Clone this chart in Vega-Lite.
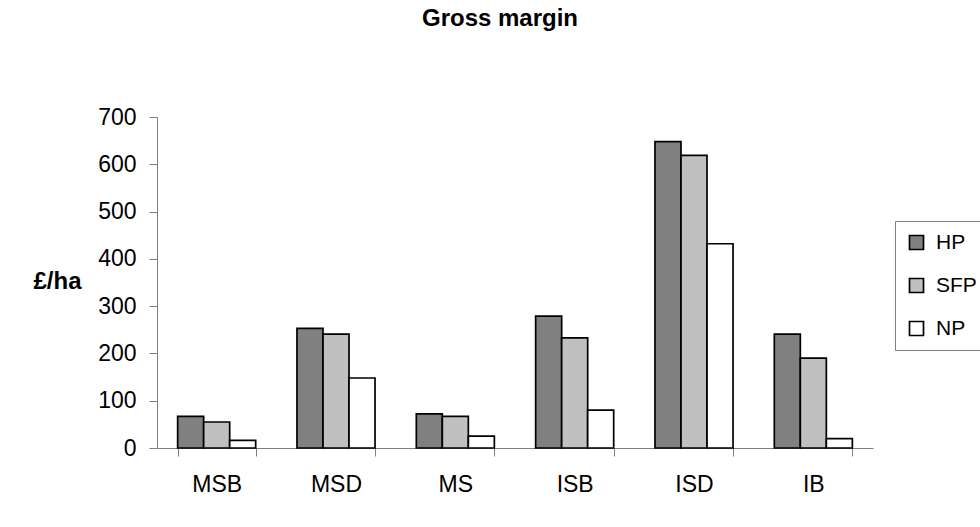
{
  "$schema": "https://vega.github.io/schema/vega-lite/v6.json",
  "autosize": {"type": "none"},
  "width": 716,
  "height": 331,
  "padding": {"left": 157, "top": 117, "right": 107, "bottom": 79},
  "background": "white",
  "title": {"text": "Gross margin", "fontSize": 24, "font": "Liberation Sans", "fontWeight": "bold", "color": "black", "anchor": "middle", "dx": -15, "baseline": "bottom", "offset": 51},
  "data": {"values": [
    {"site": "MSB", "scenario": "HP", "value": 67},
    {"site": "MSB", "scenario": "SFP", "value": 55},
    {"site": "MSB", "scenario": "NP", "value": 16},
    {"site": "MSD", "scenario": "HP", "value": 253},
    {"site": "MSD", "scenario": "SFP", "value": 241},
    {"site": "MSD", "scenario": "NP", "value": 148},
    {"site": "MS", "scenario": "HP", "value": 72},
    {"site": "MS", "scenario": "SFP", "value": 67},
    {"site": "MS", "scenario": "NP", "value": 25},
    {"site": "ISB", "scenario": "HP", "value": 279},
    {"site": "ISB", "scenario": "SFP", "value": 233},
    {"site": "ISB", "scenario": "NP", "value": 80},
    {"site": "ISD", "scenario": "HP", "value": 648},
    {"site": "ISD", "scenario": "SFP", "value": 619},
    {"site": "ISD", "scenario": "NP", "value": 432},
    {"site": "IB", "scenario": "HP", "value": 241},
    {"site": "IB", "scenario": "SFP", "value": 190},
    {"site": "IB", "scenario": "NP", "value": 20}
  ]},
  "mark": {"type": "bar", "stroke": "black", "strokeWidth": 1.7},
  "encoding": {
    "x": {
      "field": "site", "type": "nominal",
      "sort": ["MSB", "MSD", "MS", "ISB", "ISD", "IB"],
      "scale": {"paddingInner": 0.346, "paddingOuter": 0.173},
      "axis": {"title": null, "labelAngle": 0, "tickBand": "extent", "tickSize": 8, "labelPadding": 17, "labelFontSize": 23, "labelFont": "Liberation Sans", "labelColor": "black", "domainColor": "#808080", "tickColor": "#808080"}
    },
    "xOffset": {"field": "scenario", "type": "nominal", "sort": ["HP", "SFP", "NP"], "scale": {"paddingInner": 0, "paddingOuter": 0}},
    "y": {
      "field": "value", "type": "quantitative",
      "scale": {"domain": [0, 700], "nice": false},
      "axis": {"title": "£/ha", "titleAngle": 0, "titleX": -124, "titleY": 164, "titleAlign": "left", "titleBaseline": "middle", "titleFontSize": 24, "titleFont": "Liberation Sans", "titleFontWeight": "bold", "titleColor": "black", "values": [0, 100, 200, 300, 400, 500, 600, 700], "grid": false, "tickSize": 8, "labelPadding": 13, "labelFontSize": 23, "labelFont": "Liberation Sans", "labelColor": "black", "domainColor": "#808080", "tickColor": "#808080"}
    },
    "fill": {
      "field": "scenario", "type": "nominal",
      "scale": {"domain": ["HP", "SFP", "NP"], "range": ["#808080", "#c0c0c0", "#ffffff"]},
      "legend": {"title": null, "orient": "none", "legendX": 738, "legendY": 104, "symbolType": "square", "symbolSize": 196, "symbolStrokeColor": "black", "symbolStrokeWidth": 1.7, "labelFontSize": 21, "labelFont": "Liberation Sans", "labelColor": "black", "rowPadding": 21, "padding": 11, "strokeColor": "#808080", "labelOffset": 9}
    }
  },
  "config": {"view": {"stroke": null}}
}
